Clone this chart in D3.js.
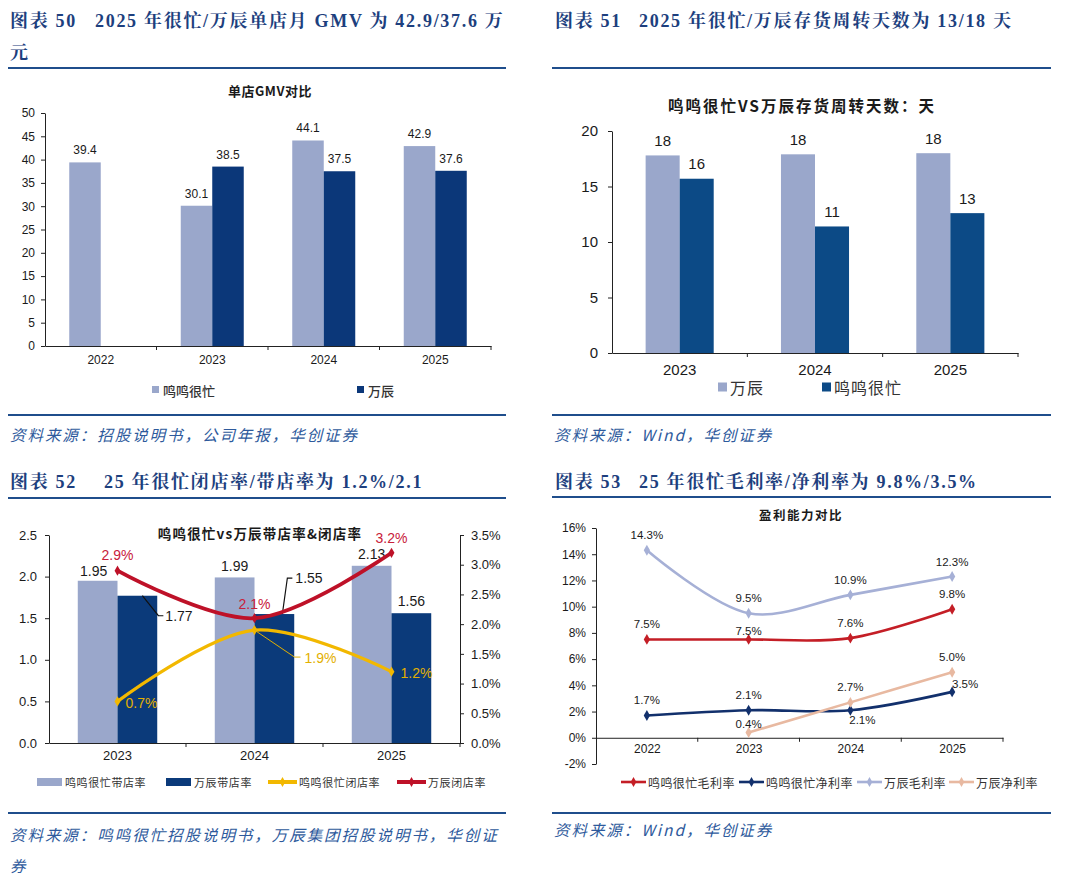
<!DOCTYPE html>
<html>
<head>
<meta charset="utf-8">
<script src="https://cdn.jsdelivr.net/npm/d3@7"></script>
<style>
body{margin:0;background:#fff;}
svg text{font-family:"Liberation Sans","Noto Sans CJK SC",sans-serif;fill:#1a1a1a;}
</style>
</head>
<body>
<svg id="chart" width="1080" height="882"></svg>
<script>

// 图表50 单店GMV
const gmvYears = ["2022", "2023", "2024", "2025"];
const gmvMingming = [39.4, 30.1, 44.1, 42.9];
const gmvWanchen = [null, 38.5, 37.5, 37.6];

// 图表51 存货周转天数
const invYears = ["2023", "2024", "2025"];
const invWanchen = [17.8, 17.9, 18.0];
const invMingming = [15.7, 11.4, 12.6];

// 图表52 带店率 & 闭店率
const storeYears = ["2023", "2024", "2025"];
const mmStoreRatio = [1.95, 1.99, 2.13];
const wcStoreRatio = [1.77, 1.55, 1.56];
const mmCloseRate = [0.007, 0.019, 0.012];
const wcCloseRate = [0.029, 0.021, 0.032];

// 图表53 盈利能力
const profitYears = ["2022", "2023", "2024", "2025"];
const mmGross = [7.5, 7.5, 7.6, 9.8];
const mmNet = [1.7, 2.1, 2.1, 3.5];
const wcGross = [14.3, 9.5, 10.9, 12.3];
const wcNet = [null, 0.4, 2.7, 5.0];


const svg = d3.select("#chart");

const rule = "#1F4E8C";
const titleColor = "#1D3F7E";
const lightBar = "#9AA7CB";
const serif = '"Liberation Serif","Noto Serif CJK SC","Noto Sans CJK SC",serif';
const cjk = '"Noto Sans CJK SC","Liberation Sans",sans-serif';

// 标题、分隔线、资料来源
function frame(o){

    const g = svg.append("g");

    o.titleLines.forEach((line, i) => {
        line.forEach(part => {
            g.append("text")
                .attr("x", part[0])
                .attr("y", o.titleY + i * 32)
                .text(part[1])
                .style("font-family", serif)
                .style("font-weight", "700")
                .style("font-size", "18px")
                .style("letter-spacing", "1.7px")
                .style("fill", titleColor);
        });
    });

    [o.ruleTop, o.ruleBottom].forEach(y => {
        g.append("line")
            .attr("x1", o.x0).attr("x2", o.x1)
            .attr("y1", y).attr("y2", y)
            .attr("stroke", rule)
            .attr("stroke-width", 2);
    });

    o.source.forEach((s, i) => {
        g.append("text")
            .attr("x", o.x0 + 2)
            .attr("y", o.sourceY + i * 31)
            .text(s)
            .style("font-family", cjk)
            .style("font-style", "italic")
            .style("font-size", "15.5px")
            .style("letter-spacing", "1.95px")
            .style("fill", "#2E5A9C");
    });
}

function chartTitle(x, y, text, size, spacing){
    svg.append("text")
        .attr("x", x).attr("y", y)
        .attr("text-anchor", "middle")
        .attr("dominant-baseline", "central")
        .text(text)
        .style("font-family", cjk)
        .style("font-weight", "700")
        .style("font-size", size + "px")
        .style("letter-spacing", spacing + "px");
}

function styleAxis(g, size){
    g.selectAll("path, line").attr("stroke", "#222");
    g.selectAll("text")
        .style("font-size", size + "px")
        .style("fill", "#1a1a1a");
}

// x轴分类边界的小刻度
function boundaryTicks(x, y, n){
    const r = x.range();
    const step = (r[1] - r[0]) / n;
    d3.range(1, n + 1).forEach(i => {
        svg.append("line")
            .attr("x1", r[0] + i * step).attr("x2", r[0] + i * step)
            .attr("y1", y).attr("y2", y + 4)
            .attr("stroke", "#222");
    });
}

function legendBox(x, y, w, h, color, label, size, spacing){
    svg.append("rect")
        .attr("x", x).attr("y", y - h / 2)
        .attr("width", w).attr("height", h)
        .attr("fill", color);
    svg.append("text")
        .attr("x", x + w + 3).attr("y", y)
        .attr("dominant-baseline", "central")
        .text(label)
        .style("font-family", cjk)
        .style("font-size", size + "px")
        .style("letter-spacing", spacing + "px")
        .style("fill", "#333");
}

function legendLine(x, y, w, color, width, label, size, spacing){
    svg.append("line")
        .attr("x1", x).attr("x2", x + w)
        .attr("y1", y).attr("y2", y)
        .attr("stroke", color)
        .attr("stroke-width", width);
    svg.append("path")
        .attr("d", d3.symbol(d3.symbolDiamond, 28)())
        .attr("transform", `translate(${x + w / 2},${y})`)
        .attr("fill", color);
    svg.append("text")
        .attr("x", x + w + 2).attr("y", y)
        .attr("dominant-baseline", "central")
        .text(label)
        .style("font-family", cjk)
        .style("font-size", size + "px")
        .style("letter-spacing", spacing + "px")
        .style("fill", "#333");
}


/* ---------------- 图表 50 ---------------- */

frame({
    x0: 8, x1: 506,
    titleY: 27,
    titleLines: [
        [[10, "图表 50"], [95, "2025 年很忙/万辰单店月 GMV 为 42.9/37.6 万"]],
        [[10, "元"]]
    ],
    ruleTop: 68, ruleBottom: 415,
    sourceY: 441,
    source: ["资料来源：招股说明书，公司年报，华创证券"]
});

chartTitle(270, 90, "单店GMV对比", 13, 0.5);

{
    const x = d3.scaleBand()
        .domain(gmvYears)
        .range([45, 491])
        .paddingInner(0.435)
        .paddingOuter(0.2175);

    const sub = d3.scaleBand()
        .domain(["mm", "wc"])
        .range([0, x.bandwidth()]);

    const y = d3.scaleLinear()
        .domain([0, 50])
        .range([346, 113]);

    const yAxis = svg.append("g")
        .attr("transform", "translate(45,0)")
        .call(d3.axisLeft(y).tickValues(d3.range(0, 51, 5))
            .tickSize(4).tickSizeOuter(0).tickPadding(6));
    styleAxis(yAxis, 12);

    const xAxis = svg.append("g")
        .attr("transform", "translate(0,346)")
        .call(d3.axisBottom(x).tickSize(0).tickSizeOuter(0).tickPadding(9));
    styleAxis(xAxis, 12);
    boundaryTicks(x, 346, 4);

    const rows = gmvYears.map((yr, i) => ({
        year: yr,
        vals: [
            {key: "mm", v: gmvMingming[i], c: lightBar},
            {key: "wc", v: gmvWanchen[i], c: "#0B3779"}
        ].filter(d => d.v != null)
    }));

    const grp = svg.selectAll(".g50")
        .data(rows)
        .enter()
        .append("g")
        .attr("transform", d => `translate(${x(d.year)},0)`);

    grp.selectAll("rect")
        .data(d => d.vals)
        .enter()
        .append("rect")
        .attr("x", d => sub(d.key))
        .attr("y", d => y(d.v))
        .attr("width", sub.bandwidth())
        .attr("height", d => y(0) - y(d.v))
        .attr("fill", d => d.c);

    grp.selectAll("text.lab")
        .data(d => d.vals)
        .enter()
        .append("text")
        .attr("class", "lab")
        .attr("x", d => sub(d.key) + sub.bandwidth() / 2)
        .attr("y", d => y(d.v) - 12)
        .attr("text-anchor", "middle")
        .attr("dominant-baseline", "central")
        .text(d => d3.format(".1f")(d.v))
        .style("font-size", "12px");

    svg.append("rect")
        .attr("x", 152).attr("y", 386).attr("width", 7).attr("height", 7)
        .attr("fill", lightBar);
    svg.append("text").attr("x", 163).attr("y", 390)
        .attr("dominant-baseline", "central")
        .text("鸣鸣很忙")
        .style("font-family", cjk).style("font-size", "13px")
        .style("font-weight", "500").style("fill", "#333");
    svg.append("rect")
        .attr("x", 357).attr("y", 386).attr("width", 7).attr("height", 7)
        .attr("fill", "#0B3779");
    svg.append("text").attr("x", 368).attr("y", 390)
        .attr("dominant-baseline", "central")
        .text("万辰")
        .style("font-family", cjk).style("font-size", "13px")
        .style("font-weight", "500").style("fill", "#333");
}


/* ---------------- 图表 51 ---------------- */

frame({
    x0: 552, x1: 1051,
    titleY: 27,
    titleLines: [
        [[555, "图表 51"], [639, "2025 年很忙/万辰存货周转天数为 13/18 天"]]
    ],
    ruleTop: 68, ruleBottom: 415,
    sourceY: 441,
    source: ["资料来源：Wind，华创证券"]
});

chartTitle(802, 105, "鸣鸣很忙VS万辰存货周转天数：天", 15.5, 2);

{
    const x = d3.scaleBand()
        .domain(invYears)
        .range([612, 1018])
        .paddingInner(0.497)
        .paddingOuter(0.2485);

    const sub = d3.scaleBand()
        .domain(["wc", "mm"])
        .range([0, x.bandwidth()]);

    const y = d3.scaleLinear()
        .domain([0, 20])
        .range([353, 131]);

    const yAxis = svg.append("g")
        .attr("transform", "translate(612,0)")
        .call(d3.axisLeft(y).tickValues([0, 5, 10, 15, 20])
            .tickSize(4).tickSizeOuter(0).tickPadding(10));
    styleAxis(yAxis, 15);

    const xAxis = svg.append("g")
        .attr("transform", "translate(0,353)")
        .call(d3.axisBottom(x).tickSize(0).tickSizeOuter(0).tickPadding(11));
    styleAxis(xAxis, 15);
    boundaryTicks(x, 353, 3);

    const rows = invYears.map((yr, i) => ({
        year: yr,
        vals: [
            {key: "wc", v: invWanchen[i], c: lightBar},
            {key: "mm", v: invMingming[i], c: "#0C4A86"}
        ]
    }));

    const grp = svg.selectAll(".g51")
        .data(rows)
        .enter()
        .append("g")
        .attr("transform", d => `translate(${x(d.year)},0)`);

    grp.selectAll("rect")
        .data(d => d.vals)
        .enter()
        .append("rect")
        .attr("x", d => sub(d.key))
        .attr("y", d => y(d.v))
        .attr("width", sub.bandwidth())
        .attr("height", d => y(0) - y(d.v))
        .attr("fill", d => d.c);

    grp.selectAll("text.lab")
        .data(d => d.vals)
        .enter()
        .append("text")
        .attr("class", "lab")
        .attr("x", d => sub(d.key) + sub.bandwidth() / 2)
        .attr("y", d => y(d.v) - 15)
        .attr("text-anchor", "middle")
        .attr("dominant-baseline", "central")
        .text(d => d3.format(".0f")(d.v))
        .style("font-size", "15px");

    legendBox(718, 387, 9, 9, lightBar, "万辰", 16, 1);
    legendBox(822, 387, 9, 9, "#0C4A86", "鸣鸣很忙", 16, 1);
}


/* ---------------- 图表 52 ---------------- */

frame({
    x0: 8, x1: 506,
    titleY: 488,
    titleLines: [
        [[10, "图表 52"], [104, "25 年很忙闭店率/带店率为 1.2%/2.1"]]
    ],
    ruleTop: 498, ruleBottom: 813,
    sourceY: 841,
    source: ["资料来源：鸣鸣很忙招股说明书，万辰集团招股说明书，华创证", "券"]
});

chartTitle(260, 533, "鸣鸣很忙vs万辰带店率&闭店率", 13.5, 1.2);

{
    const x = d3.scaleBand()
        .domain(storeYears)
        .range([49, 460])
        .paddingInner(0.42)
        .paddingOuter(0.21);

    const sub = d3.scaleBand()
        .domain(["mm", "wc"])
        .range([0, x.bandwidth()]);

    const cx = d => x(d) + x.bandwidth() / 2;

    const y = d3.scaleLinear()
        .domain([0, 2.5])
        .range([743, 535]);

    const yR = d3.scaleLinear()
        .domain([0, 0.035])
        .range([743, 535]);

    const yAxis = svg.append("g")
        .attr("transform", "translate(49,0)")
        .call(d3.axisLeft(y).tickValues([0, 0.5, 1, 1.5, 2, 2.5])
            .tickFormat(d3.format(".1f"))
            .tickSize(4).tickSizeOuter(0).tickPadding(8));
    styleAxis(yAxis, 13);

    const yAxisR = svg.append("g")
        .attr("transform", "translate(460,0)")
        .call(d3.axisRight(yR).tickValues(d3.range(0, 0.0351, 0.005))
            .tickFormat(d3.format(".1%"))
            .tickSize(4).tickSizeOuter(0).tickPadding(7));
    styleAxis(yAxisR, 13);

    const xAxis = svg.append("g")
        .attr("transform", "translate(0,743)")
        .call(d3.axisBottom(x).tickSize(0).tickSizeOuter(0).tickPadding(8));
    styleAxis(xAxis, 13);
    boundaryTicks(x, 743, 3);

    const rows = storeYears.map((yr, i) => ({
        year: yr,
        vals: [
            {key: "mm", v: mmStoreRatio[i], c: lightBar},
            {key: "wc", v: wcStoreRatio[i], c: "#0B3A7A"}
        ]
    }));

    const grp = svg.selectAll(".g52")
        .data(rows)
        .enter()
        .append("g")
        .attr("transform", d => `translate(${x(d.year)},0)`);

    grp.selectAll("rect")
        .data(d => d.vals)
        .enter()
        .append("rect")
        .attr("x", d => sub(d.key))
        .attr("y", d => y(d.v))
        .attr("width", sub.bandwidth())
        .attr("height", d => y(0) - y(d.v))
        .attr("fill", d => d.c);

    // 柱子标签：[dx, dy, 引线类型]
    const barLab = {
        mm: [[-4, -10], [0, -11], [0, -12]],
        wc: [[0, 20, 1], [0, -36, 2], [0, -12]]
    };

    rows.forEach((r, i) => {
        r.vals.forEach(d => {
            const bx = x(r.year) + sub(d.key) + sub.bandwidth() / 2;
            const by = y(d.v);
            const o = barLab[d.key][i];
            if(o[2] === 1){
                svg.append("polyline")
                    .attr("points", `${bx + 5},${by} ${bx + 21},${by + o[1]} ${bx + 26},${by + o[1]}`)
                    .attr("fill", "none").attr("stroke", "#111").attr("stroke-width", 1.2);
                svg.append("text")
                    .attr("x", bx + 28).attr("y", by + o[1])
                    .attr("dominant-baseline", "central")
                    .text(d3.format(".2f")(d.v))
                    .style("font-size", "14px");
            } else if(o[2] === 2){
                svg.append("polyline")
                    .attr("points", `${bx + 8},${by} ${bx + 13},${by + o[1]} ${bx + 18},${by + o[1]}`)
                    .attr("fill", "none").attr("stroke", "#111").attr("stroke-width", 1.2);
                svg.append("text")
                    .attr("x", bx + 21).attr("y", by + o[1])
                    .attr("dominant-baseline", "central")
                    .text(d3.format(".2f")(d.v))
                    .style("font-size", "14px");
            } else {
                svg.append("text")
                    .attr("x", bx + o[0]).attr("y", by + o[1])
                    .attr("text-anchor", "middle")
                    .attr("dominant-baseline", "central")
                    .text(d3.format(".2f")(d.v))
                    .style("font-size", "14px");
            }
        });
    });

    const line = d3.line()
        .x(d => cx(d.year))
        .y(d => yR(d.v))
        .curve(d3.curveCatmullRom.alpha(0.5));

    const closeSeries = [
        {vals: mmCloseRate, color: "#F2B800", lab: "#E3B000", w: 3.2,
         offs: [[24, 2], [0, 0, 1], [25, 1]]},
        {vals: wcCloseRate, color: "#BE1128", lab: "#C8203A", w: 3.8,
         offs: [[0, -16], [0, -14], [0, -15]]}
    ];

    closeSeries.forEach(s => {
        const pts = storeYears.map((yr, i) => ({year: yr, v: s.vals[i]}));

        svg.append("path")
            .datum(pts)
            .attr("d", line)
            .attr("fill", "none")
            .attr("stroke", s.color)
            .attr("stroke-width", s.w);

        svg.selectAll(null)
            .data(pts)
            .enter()
            .append("path")
            .attr("d", d3.symbol(d3.symbolDiamond, 30)())
            .attr("transform", d => `translate(${cx(d.year)},${yR(d.v)})`)
            .attr("fill", s.color);

        pts.forEach((d, i) => {
            const px = cx(d.year), py = yR(d.v);
            const o = s.offs[i];
            if(o[2] === 1){
                svg.append("polyline")
                    .attr("points", `${px},${py} ${px + 40},${py + 27} ${px + 46},${py + 27}`)
                    .attr("fill", "none").attr("stroke", s.lab).attr("stroke-width", 1);
                svg.append("text")
                    .attr("x", px + 50).attr("y", py + 28)
                    .attr("dominant-baseline", "central")
                    .text(d3.format(".1%")(d.v))
                    .style("font-size", "14px")
                    .style("fill", s.lab);
            } else {
                svg.append("text")
                    .attr("x", px + o[0]).attr("y", py + o[1])
                    .attr("text-anchor", "middle")
                    .attr("dominant-baseline", "central")
                    .text(d3.format(".1%")(d.v))
                    .style("font-size", "14px")
                    .style("fill", s.lab);
            }
        });
    });

    legendBox(37, 782, 25, 8, lightBar, "鸣鸣很忙带店率", 11, 0.6);
    legendBox(166, 782, 25, 8, "#0B3A7A", "万辰带店率", 11, 0.6);
    legendLine(268, 782, 29, "#F2B800", 4, "鸣鸣很忙闭店率", 11, 0.6);
    legendLine(397, 782, 29, "#BE1128", 4, "万辰闭店率", 11, 0.6);
}


/* ---------------- 图表 53 ---------------- */

frame({
    x0: 552, x1: 1051,
    titleY: 488,
    titleLines: [
        [[555, "图表 53"], [639, "25 年很忙毛利率/净利率为 9.8%/3.5%"]]
    ],
    ruleTop: 497, ruleBottom: 813,
    sourceY: 836,
    source: ["资料来源：Wind，华创证券"]
});

chartTitle(801, 514, "盈利能力对比", 12.5, 1.5);

{
    const x = d3.scalePoint()
        .domain(profitYears)
        .range([596, 1003])
        .padding(0.5);

    const y = d3.scaleLinear()
        .domain([-2, 16])
        .range([764, 528]);

    const yAxis = svg.append("g")
        .attr("transform", "translate(596,0)")
        .call(d3.axisLeft(y).tickValues(d3.range(-2, 17, 2))
            .tickFormat(d => d + "%")
            .tickSize(4).tickSizeOuter(0).tickPadding(6));
    styleAxis(yAxis, 12);

    const xAxis = svg.append("g")
        .attr("transform", `translate(0,${y(0)})`)
        .call(d3.axisBottom(x).tickSize(0).tickSizeOuter(0).tickPadding(7));
    styleAxis(xAxis, 12);
    boundaryTicks(x, y(0), 4);

    const line = d3.line()
        .defined(d => d.v != null)
        .x(d => x(d.year))
        .y(d => y(d.v))
        .curve(d3.curveCatmullRom.alpha(0.5));

    // 标签偏移 [dx, dy]
    const series = [
        {name: "鸣鸣很忙毛利率", vals: mmGross, color: "#C41E26",
         offs: [[0, -15], [0, -8], [0, -15], [0, -15]]},
        {name: "鸣鸣很忙净利率", vals: mmNet, color: "#12306C",
         offs: [[0, -15], [0, -15], [12, 10], [13, -8]]},
        {name: "万辰毛利率", vals: wcGross, color: "#A6B0D6",
         offs: [[0, -15], [0, -15], [0, -15], [0, -15]]},
        {name: "万辰净利率", vals: wcNet, color: "#E8B9A1",
         offs: [[0, 0], [0, -9], [0, -15], [0, -15]]}
    ];

    series.forEach(s => {
        const pts = profitYears.map((yr, i) => ({year: yr, v: s.vals[i], o: s.offs[i]}));
        const valid = pts.filter(d => d.v != null);

        svg.append("path")
            .datum(valid)
            .attr("d", line)
            .attr("fill", "none")
            .attr("stroke", s.color)
            .attr("stroke-width", 2.6);

        svg.selectAll(null)
            .data(valid)
            .enter()
            .append("path")
            .attr("d", d3.symbol(d3.symbolDiamond, 34)())
            .attr("transform", d => `translate(${x(d.year)},${y(d.v)})`)
            .attr("fill", s.color);

        svg.selectAll(null)
            .data(valid)
            .enter()
            .append("text")
            .attr("x", d => x(d.year) + d.o[0])
            .attr("y", d => y(d.v) + d.o[1])
            .attr("text-anchor", "middle")
            .attr("dominant-baseline", "central")
            .text(d => d3.format(".1f")(d.v) + "%")
            .style("font-size", "11.5px");
    });

    legendLine(621, 782, 25, "#C41E26", 2.6, "鸣鸣很忙毛利率", 12, 0.4);
    legendLine(739, 782, 25, "#12306C", 2.6, "鸣鸣很忙净利率", 12, 0.4);
    legendLine(857, 782, 25, "#A6B0D6", 2.6, "万辰毛利率", 12, 0.4);
    legendLine(949, 782, 25, "#E8B9A1", 2.6, "万辰净利率", 12, 0.4);
}

</script>
</body>
</html>
